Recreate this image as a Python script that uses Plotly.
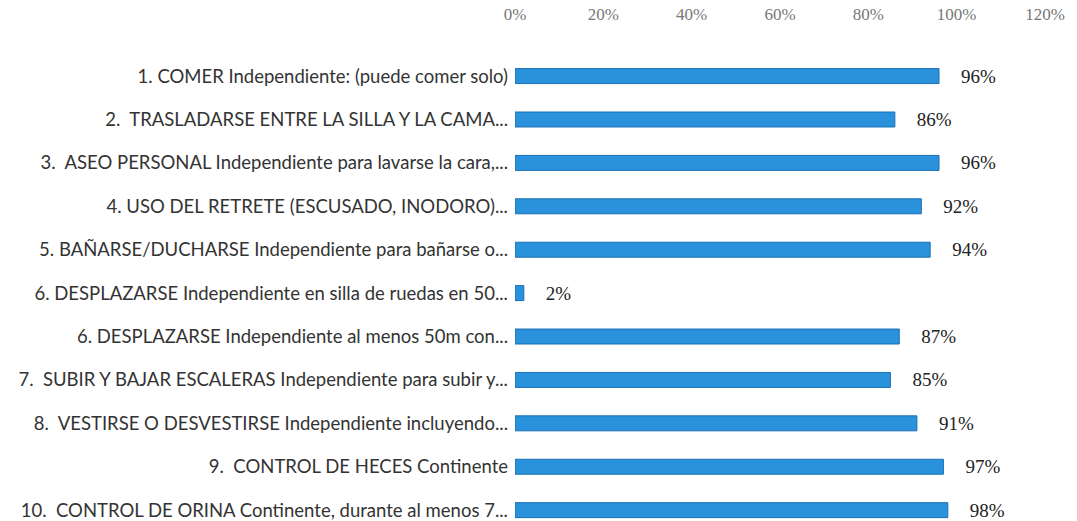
import plotly.graph_objects as go

categories = [
    "1. COMER Independiente: (puede comer solo)",
    "2.  TRASLADARSE ENTRE LA SILLA Y LA CAMA...",
    "3.  ASEO PERSONAL Independiente para lavarse la cara,...",
    "4. USO DEL RETRETE (ESCUSADO, INODORO)...",
    "5. BAÑARSE/DUCHARSE Independiente para bañarse o...",
    "6. DESPLAZARSE Independiente en silla de ruedas en 50...",
    "6. DESPLAZARSE Independiente al menos 50m con...",
    "7.  SUBIR Y BAJAR ESCALERAS Independiente para subir y...",
    "8.  VESTIRSE O DESVESTIRSE Independiente incluyendo...",
    "9.  CONTROL DE HECES Continente",
    "10.  CONTROL DE ORINA Continente, durante al menos 7...",
]
values = [0.96, 0.86, 0.96, 0.92, 0.94, 0.02, 0.87, 0.85, 0.91, 0.97, 0.98]
tick_vals = [0, 0.2, 0.4, 0.6, 0.8, 1.0, 1.2]
tick_text = ["0%", "20%", "40%", "60%", "80%", "100%", "120%"]

SERIF = "Liberation Serif"

fig = go.Figure()
fig.add_trace(go.Bar(
    x=values,
    y=categories,
    orientation="h",
    width=0.345,
    marker=dict(color="#2a92dc", line=dict(color="#1a6fb2", width=1)),
    text=[f"{round(v*100)}%" for v in values],
    texttemplate="    %{text}",
    textposition="outside",
    constraintext="none",
    cliponaxis=False,
    hoverinfo="skip",
    textfont=dict(family=SERIF, size=19, color="#222222"),
))

fig.update_layout(
    width=1077,
    height=521,
    margin=dict(l=515, r=32, t=24, b=0),
    plot_bgcolor="white",
    paper_bgcolor="white",
    showlegend=False,
    font=dict(family=SERIF),
    xaxis=dict(
        side="top",
        range=[0, 1.2],
        tickvals=tick_vals,
        ticktext=tick_text,
        showgrid=False,
        zeroline=False,
        showline=False,
        ticks="",
        automargin=False,
        tickfont=dict(family=SERIF, size=17, color="#777777"),
    ),
    yaxis=dict(
        categoryorder="array",
        categoryarray=categories,
        range=[10.25, -1.2],
        showgrid=False,
        zeroline=False,
        showline=False,
        ticks="",
        automargin=False,
        ticklabelstandoff=6,
        tickfont=dict(family="Lato", size=18.5, color="#333333"),
    ),
)

fig.write_html(
    "out.html",
    config={"displayModeBar": False},
    post_script="document.body.style.margin='0';document.body.style.overflow='hidden';",
)
